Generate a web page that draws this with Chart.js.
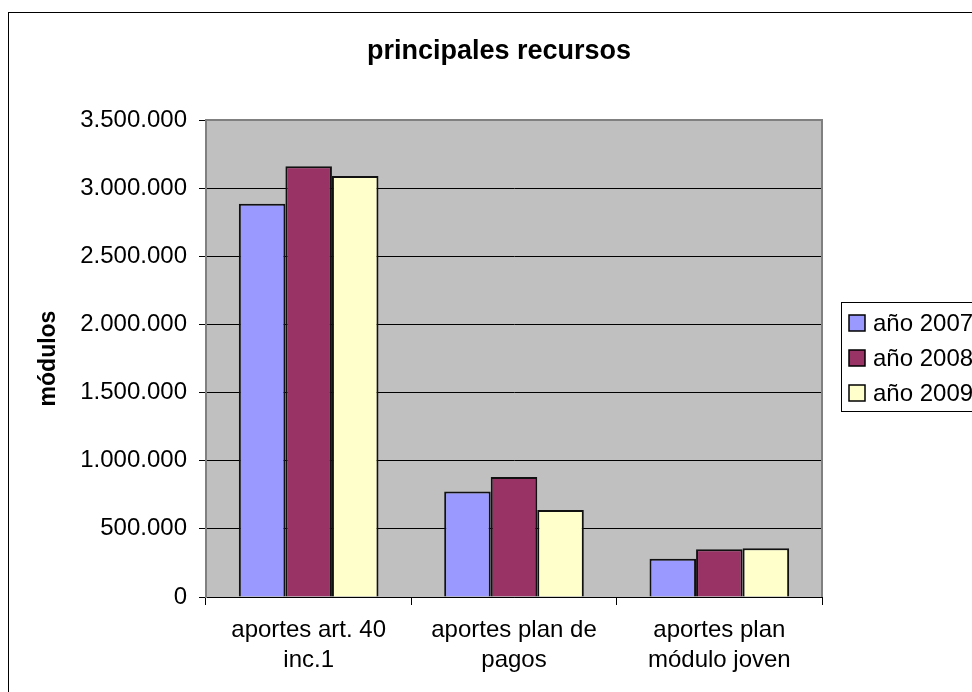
<!DOCTYPE html>
<html>
<head>
<meta charset="utf-8">
<script src="https://cdn.jsdelivr.net/npm/chart.js@4.4.1/dist/chart.umd.min.js"></script>
<style>
  html, body { margin: 0; padding: 0; background: #fff; overflow: hidden; }
  #wrap { width: 972px; height: 692px; position: relative; }
</style>
</head>
<body>
<div id="wrap"><canvas id="chartRecursos" width="972" height="692"></canvas></div>
<script>
// chart data
const categories = [['aportes art. 40', 'inc.1'], ['aportes plan de', 'pagos'], ['aportes plan', 'módulo joven']];
const seriesNames = ['año 2007', 'año 2008', 'año 2009'];
const values2007 = [2885000, 775000, 280000];
const values2008 = [3160000, 880000, 350000];
const values2009 = [3090000, 638000, 358000];
const yTicks = [0, 500000, 1000000, 1500000, 2000000, 2500000, 3000000, 3500000];

const FONT = '"Liberation Sans", Arial, sans-serif';

function fmt(v){
  // 3500000 -> 3.500.000
  return String(v).replace(/\B(?=(\d{3})+(?!\d))/g, '.');
}

// frame, title, plot border and legend drawn the Excel way
const excelDecor = {
  id: 'excelDecor',
  beforeDraw(chart){
    const c = chart.ctx, a = chart.chartArea;
    c.save();
    c.fillStyle = '#fff';
    c.fillRect(0, 0, chart.width, chart.height);
    c.strokeStyle = '#000';
    c.lineWidth = 1;
    c.strokeRect(8.5, 12.5, 2000, 2000);
    c.fillStyle = '#C0C0C0';
    c.fillRect(a.left, a.top, a.right - a.left, a.bottom - a.top);
    c.restore();
  },
  afterDraw(chart){
    const c = chart.ctx, a = chart.chartArea;
    c.save();
    // plot area border (top / right)
    c.strokeStyle = '#808080';
    c.lineWidth = 2;
    c.beginPath();
    c.moveTo(a.left, a.top);
    c.lineTo(a.right, a.top);
    c.lineTo(a.right, a.bottom);
    c.stroke();
    // title
    c.fillStyle = '#000';
    c.font = 'bold 27px ' + FONT;
    c.textAlign = 'center';
    c.textBaseline = 'middle';
    c.fillText('principales recursos', 499, 52);
    // legend
    const lx = 841, ly = 302;
    c.lineWidth = 1;
    c.strokeStyle = '#000';
    c.strokeRect(lx + 0.5, ly + 0.5, 400, 109);
    c.font = '24px ' + FONT;
    c.textAlign = 'left';
    chart.data.datasets.forEach((ds, i) => {
      const y = ly + 21 + i * 35;
      c.fillStyle = ds.backgroundColor;
      c.fillRect(849, y - 8, 16, 16);
      c.strokeStyle = '#000';
      c.lineWidth = 1.5;
      c.strokeRect(849, y - 8, 16, 16);
      c.fillStyle = '#000';
      c.fillText(ds.label, 873, y + 1);
    });
    c.restore();
  }
};

new Chart(document.getElementById('chartRecursos'), {
  type: 'bar',
  data: {
    labels: categories,
    datasets: [
      { label: seriesNames[0], data: values2007, backgroundColor: '#9999FF' },
      { label: seriesNames[1], data: values2008, backgroundColor: '#993366' },
      { label: seriesNames[2], data: values2009, backgroundColor: '#FFFFCC' }
    ].map(d => Object.assign(d, { borderColor: '#111', borderWidth: 2, categoryPercentage: 0.68, barPercentage: 1 }))
  },
  options: {
    responsive: false,
    animation: false,
    layout: { padding: { left: 35, top: 120, right: 150, bottom: 0 } },
    plugins: { legend: { display: false }, title: { display: false }, tooltip: { enabled: false } },
    scales: {
      x: {
        grid: { drawOnChartArea: false, drawTicks: true, tickLength: 8, color: '#000' },
        border: { color: '#000', width: 1 },
        ticks: { color: '#000', font: { family: FONT, size: 24, lineHeight: 1.25 }, padding: 10, maxRotation: 0, autoSkip: false },
        afterFit(s){ s.height = 95; }
      },
      y: {
        min: 0, max: 3500000,
        afterBuildTicks(s){ s.ticks = yTicks.map(v => ({ value: v })); },
        grid: { color: '#000', lineWidth: 1, tickLength: 7 },
        border: { color: '#808080', width: 2 },
        ticks: { color: '#000', font: { family: FONT, size: 24 }, padding: 12, callback: v => fmt(v) },
        title: { display: true, text: 'módulos', color: '#000', font: { family: FONT, size: 23, weight: 'bold' }, padding: 0 },
        afterFit(s){ s.width = 171; }
      }
    }
  },
  plugins: [excelDecor]
});
</script>
</body>
</html>
